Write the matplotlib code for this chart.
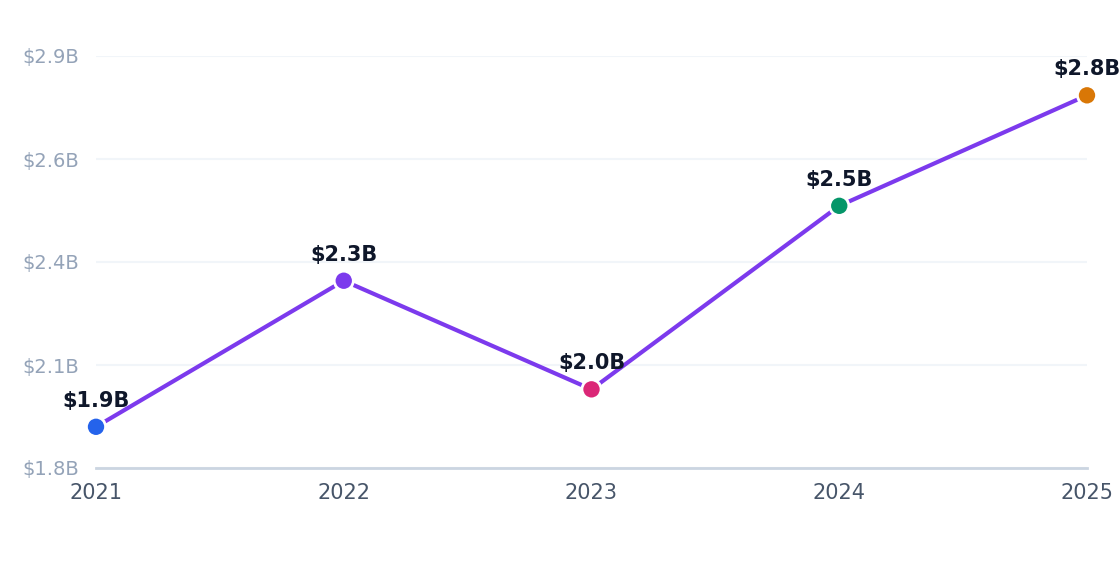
import matplotlib.pyplot as plt
import numpy as np

years = ["2021", "2022", "2023", "2024", "2025"]
revenue = [1.91, 2.30, 2.01, 2.50, 2.795]
point_colors = ["#2563eb", "#7c3aed", "#db2777", "#059669", "#d97706"]
y_ticks = np.linspace(1.8, 2.9, 5)

fig = plt.figure(figsize=(11.2, 5.72), dpi=100)
ax = fig.add_axes([96 / 1120, 1 - 468 / 572, (1087 - 96) / 1120, (468 - 56) / 572])

x = np.arange(len(years))
ax.plot(x, revenue, color="#7c3aed", linewidth=3, zorder=2, solid_capstyle="butt")
ax.scatter(x, revenue, s=190, c=point_colors, edgecolors="white", linewidths=2, zorder=3, clip_on=False)

for xi, v in zip(x, revenue):
    ax.annotate(f"${v:.1f}B", (xi, v), xytext=(0, 14.5), textcoords="offset points",
                ha="center", va="baseline", fontsize=15, fontweight="bold", color="#0f172a",
                annotation_clip=False)

ax.set_xlim(0, len(years) - 1)
ax.set_ylim(1.8, 2.9)
ax.set_xticks(x)
ax.set_xticklabels(years)
ax.set_yticks(y_ticks)
ax.set_yticklabels([f"${t:.1f}B" for t in y_ticks])
ax.tick_params(axis="x", length=0, pad=10.5, labelsize=15, labelcolor="#475569")
ax.tick_params(axis="y", length=0, pad=12, labelsize=14, labelcolor="#94a3b8")

ax.grid(axis="y", color="#f1f5f9", linewidth=1.5)
ax.set_axisbelow(True)
for side in ["top", "right", "left"]:
    ax.spines[side].set_visible(False)
ax.spines["bottom"].set_color("#cbd5e1")
ax.spines["bottom"].set_linewidth(2)

plt.savefig("out.png", dpi=100)
